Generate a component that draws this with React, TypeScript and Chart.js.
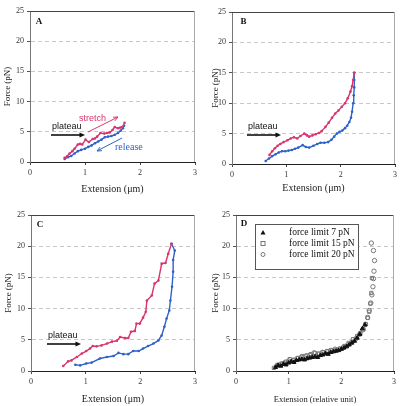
import React, { useEffect, useRef } from "react";
import { Chart, registerables } from "chart.js";
Chart.register(...registerables);

const RED = "#d8346f";
const BLUE = "#2e62c8";

// ---- Panel A ----
const aStretchX = [0.63,0.68,0.72,0.77,0.81,0.87,0.91,0.95,1.01,1.07,1.14,1.18,1.22,1.28,1.35,1.40,1.45,1.50,1.54,1.60,1.64,1.68,1.72];
const aStretchY = [0.7,1.0,1.4,1.8,2.2,2.9,3.0,2.9,3.7,3.3,3.8,3.9,4.2,4.8,4.7,4.8,4.9,5.3,5.8,5.6,5.7,5.8,6.5];
const aReleaseX = [0.63,0.69,0.75,0.81,0.87,0.93,1.00,1.06,1.12,1.18,1.24,1.30,1.36,1.42,1.48,1.54,1.60,1.65,1.69,1.71];
const aReleaseY = [0.5,0.8,1.0,1.4,1.8,2.0,2.2,2.5,2.75,3.1,3.4,3.7,4.1,4.2,4.3,4.5,4.8,5.2,5.6,6.0];

// ---- Panel B ----
const bStretchX = [0.69,0.74,0.79,0.84,0.89,0.95,1.02,1.08,1.14,1.20,1.26,1.33,1.38,1.42,1.48,1.54,1.60,1.65,1.72,1.78,1.84,1.90,1.96,2.02,2.08,2.13,2.18,2.21,2.23,2.25];
const bStretchY = [1.5,2.1,2.6,3.0,3.3,3.6,3.9,4.2,4.4,4.2,4.6,5.0,4.7,4.5,4.7,4.9,5.1,5.4,6.1,6.8,7.6,8.3,8.8,9.4,10.0,10.8,11.9,12.8,13.8,15.0];
const bReleaseX = [0.62,0.68,0.74,0.80,0.86,0.92,0.98,1.04,1.10,1.16,1.22,1.30,1.36,1.42,1.50,1.57,1.63,1.70,1.77,1.83,1.88,1.93,1.98,2.03,2.08,2.12,2.16,2.19,2.21,2.23,2.24,2.25,2.25,2.25];
const bReleaseY = [0.5,0.9,1.3,1.6,1.9,2.1,2.1,2.2,2.3,2.5,2.7,3.1,2.8,2.7,3.0,3.3,3.5,3.5,3.6,4.0,4.5,5.0,5.3,5.5,5.9,6.3,6.9,7.6,8.6,10.0,11.3,12.6,13.8,15.0];

// ---- Panel C ----
const cStretchX = [0.59,0.68,0.74,0.84,0.93,1.01,1.08,1.13,1.20,1.29,1.39,1.48,1.57,1.63,1.72,1.78,1.83,1.90,1.93,1.99,2.05,2.10,2.12,2.21,2.26,2.33,2.39,2.46,2.51,2.57];
const cStretchY = [0.8,1.55,1.7,2.25,2.8,3.2,3.6,4.0,3.95,4.1,4.4,4.7,4.85,5.45,5.3,5.3,6.3,6.4,7.6,7.6,8.55,9.5,11.3,12.1,14.0,14.5,17.2,17.3,18.8,20.4];
const cReleaseX = [0.81,0.90,1.01,1.11,1.26,1.39,1.51,1.60,1.69,1.78,1.87,1.97,2.05,2.14,2.24,2.33,2.39,2.44,2.48,2.53,2.55,2.58,2.60,2.60,2.63,2.57];
const cReleaseY = [1.0,0.9,1.2,1.35,2.0,2.25,2.4,2.9,2.7,2.7,3.2,3.2,3.6,4.0,4.4,4.9,5.7,7.1,8.4,9.7,11.3,13.5,15.9,17.8,19.3,20.4];

// ---- Panel D ----
const dLegend = ["force limit 7 pN", "force limit 15 pN", "force limit 20 pN"];
const d7X = [0.75,0.80,0.85,0.90,0.95,1.00,1.05,1.10,1.15,1.20,1.25,1.30,1.35,1.40,1.45,1.50,1.55,1.60,1.65,1.70,1.75,1.80,1.85,1.90,1.95,2.00,2.05,2.10,2.15,2.20,2.25,2.30,2.35,2.40,2.45];
const d7Y = [0.6,0.9,0.8,1.1,1.0,1.3,1.5,1.4,1.7,1.8,1.9,1.8,2.0,2.1,2.2,2.3,2.2,2.5,2.6,2.8,2.7,3.0,3.1,3.2,3.3,3.5,3.7,3.9,4.2,4.5,4.8,5.3,5.9,6.8,7.4];
const d15X = [0.72,0.80,0.88,0.95,1.02,1.10,1.18,1.26,1.34,1.42,1.50,1.58,1.66,1.74,1.82,1.90,1.98,2.06,2.14,2.22,2.30,2.36,2.42,2.46,2.50,2.53,2.55,2.57,2.58];
const d15Y = [0.5,1.0,1.2,1.5,1.9,1.8,2.1,2.4,2.5,2.7,2.9,2.8,3.0,3.2,3.3,3.4,3.6,4.0,4.5,5.1,5.6,6.1,6.7,7.5,8.5,9.5,10.8,12.5,14.9];
const d20X = [0.78,0.85,0.92,1.00,1.08,1.16,1.24,1.32,1.40,1.48,1.56,1.64,1.72,1.80,1.88,1.96,2.04,2.12,2.20,2.28,2.35,2.41,2.46,2.50,2.53,2.56,2.58,2.60,2.61,2.62,2.63,2.61,2.57];
const d20Y = [0.9,1.1,1.3,1.6,1.7,2.0,2.2,2.3,2.5,2.9,2.7,3.0,3.1,3.3,3.5,3.5,3.8,4.2,4.6,5.2,5.9,6.6,7.5,8.6,9.7,10.9,12.2,13.5,14.8,16.0,17.7,19.3,20.5];

const X_MIN = 0, X_MAX = 3, X_STEP = 1;
const Y_MIN = 0, Y_MAX = 25, Y_STEP = 5;

const CW = 200, CH = 203;
const SERIF = '"Liberation Serif", "Times New Roman", serif';
const SANS = '"Liberation Sans", Arial, sans-serif';

const pts = (xs: number[], ys: number[]) => xs.map((x, i) => ({ x, y: ys[i] }));

function lineSet(xs: number[], ys: number[], color: string) {
  return {
    data: pts(xs, ys), showLine: true, borderColor: color, backgroundColor: color,
    borderWidth: 1.4, pointRadius: 1.3, pointBorderWidth: 0, tension: 0,
  };
}

function arrow(ctx: CanvasRenderingContext2D, x1: number, y1: number, x2: number, y2: number,
  color: string, lw: number, head: number, filled: boolean) {
  const ang = Math.atan2(y2 - y1, x2 - x1);
  ctx.strokeStyle = color; ctx.fillStyle = color; ctx.lineWidth = lw;
  const ex = filled ? x2 - head * 0.8 * Math.cos(ang) : x2;
  const ey = filled ? y2 - head * 0.8 * Math.sin(ang) : y2;
  ctx.beginPath(); ctx.moveTo(x1, y1); ctx.lineTo(ex, ey); ctx.stroke();
  const a1 = ang + Math.PI - 0.42, a2 = ang + Math.PI + 0.42;
  ctx.beginPath();
  ctx.moveTo(x2 + head * Math.cos(a1), y2 + head * Math.sin(a1));
  ctx.lineTo(x2, y2);
  ctx.lineTo(x2 + head * Math.cos(a2), y2 + head * Math.sin(a2));
  if (filled) { ctx.closePath(); ctx.fill(); } else { ctx.stroke(); }
}

function text(ctx: CanvasRenderingContext2D, s: string, x: number, y: number, font: string, color: string, align: CanvasTextAlign = "left") {
  ctx.font = font; ctx.fillStyle = color; ctx.textAlign = align; ctx.textBaseline = "middle";
  ctx.fillText(s, x, y);
}

type Spec = {
  left: number; right: number; top: number; bottom: number;
  yTitlePad: number; xTitlePad: number; xTitle: string; xTitleSize: number;
  datasets: any[]; label: string; labelX: number; labelY: number;
  extra?: (ctx: CanvasRenderingContext2D) => void;
};

const Y_TITLE_SIZE = 9;

function plateau(ctx: CanvasRenderingContext2D, x: number, y: number) {
  text(ctx, "plateau", x, y, `9px ${SANS}`, "#111");
  arrow(ctx, x - 1, y + 8, x + 33, y + 8, "#111", 1.6, 6, true);
}

const specs: Spec[] = [
  {
    left: 30, right: 196, top: 11, bottom: 162, yTitlePad: 2.6, xTitlePad: 8, xTitle: "Extension (\u03bcm)", xTitleSize: 10,
    datasets: [lineSet(aStretchX, aStretchY, RED), lineSet(aReleaseX, aReleaseY, BLUE)],
    label: "A", labelX: 39, labelY: 22,
    extra: (ctx) => {
      text(ctx, "stretch", 79, 119, `9px ${SANS}`, RED);
      arrow(ctx, 88, 132, 118, 117, RED, 1, 5, false);
      plateau(ctx, 52, 127);
      arrow(ctx, 122, 138, 97, 151, BLUE, 1, 5, false);
      text(ctx, "release", 115, 147, `10px ${SERIF}`, BLUE);
    },
  },
  {
    left: 32, right: 197, top: 12, bottom: 164, yTitlePad: 10.3, xTitlePad: 8.7, xTitle: "Extension (\u03bcm)", xTitleSize: 10,
    datasets: [lineSet(bStretchX, bStretchY, RED), lineSet(bReleaseX, bReleaseY, BLUE)],
    label: "B", labelX: 43.5, labelY: 22,
    extra: (ctx) => { plateau(ctx, 48, 127); },
  },
  {
    left: 31, right: 195, top: 12, bottom: 168, yTitlePad: 3, xTitlePad: 1, xTitle: "Extension (\u03bcm)", xTitleSize: 10,
    datasets: [lineSet(cStretchX, cStretchY, RED), lineSet(cReleaseX, cReleaseY, BLUE)],
    label: "C", labelX: 40, labelY: 22,
    extra: (ctx) => { plateau(ctx, 48, 133); },
  },
  {
    left: 36, right: 194, top: 12, bottom: 168, yTitlePad: 10, xTitlePad: 0.9, xTitle: "Extension (relative unit)", xTitleSize: 8.5,
    datasets: [
      { data: pts(d7X, d7Y), pointStyle: "triangle", pointRadius: 2.4, backgroundColor: "#111", borderColor: "#111", borderWidth: 1 },
      { data: pts(d15X, d15Y), pointStyle: "rect", pointRadius: 2.3, backgroundColor: "rgba(0,0,0,0)", borderColor: "#777", borderWidth: 1 },
      { data: pts(d20X, d20Y), pointStyle: "circle", pointRadius: 2.2, backgroundColor: "rgba(0,0,0,0)", borderColor: "#777", borderWidth: 1 },
    ],
    label: "D", labelX: 44, labelY: 21,
    extra: (ctx) => {
      ctx.fillStyle = "#fff"; ctx.fillRect(55.5, 21.5, 103, 45);
      ctx.strokeStyle = "#555"; ctx.lineWidth = 1; ctx.strokeRect(55.5, 21.5, 103, 45);
      const rows = [29.5, 40.5, 51.5];
      ctx.fillStyle = "#111"; ctx.beginPath();
      ctx.moveTo(63, rows[0] - 2.5); ctx.lineTo(65.5, rows[0] + 2); ctx.lineTo(60.5, rows[0] + 2); ctx.closePath(); ctx.fill();
      ctx.strokeStyle = "#777"; ctx.strokeRect(61, rows[1] - 2, 4, 4);
      ctx.beginPath(); ctx.arc(63, rows[2], 2, 0, Math.PI * 2); ctx.stroke();
      dLegend.forEach((s, i) => text(ctx, s, 89, rows[i], `9.5px ${SERIF}`, "#111"));
    },
  },
];

function makeConfig(s: Spec): any {
  const tickFont = { family: SERIF, size: 8 };
  return {
    type: "scatter",
    data: { datasets: s.datasets },
    options: {
      animation: false, responsive: false, devicePixelRatio: 1,
      layout: { padding: { left: 0, top: s.top, right: CW - s.right, bottom: 0 } },
      plugins: { legend: { display: false }, tooltip: { enabled: false } },
      scales: {
        x: {
          type: "linear", min: X_MIN, max: X_MAX,
          afterFit: (sc: any) => { sc.height = CH - s.bottom; },
          ticks: { stepSize: X_STEP, font: tickFont, color: "#333", padding: 3, maxRotation: 0 },
          grid: { drawOnChartArea: false, drawTicks: true, tickLength: 3, tickColor: "#444", color: "#444" },
          border: { color: "#222", width: 1 },
          title: { display: true, text: s.xTitle, font: { family: SERIF, size: s.xTitleSize }, color: "#222", padding: { top: 0, bottom: s.xTitlePad } },
        },
        y: {
          type: "linear", min: Y_MIN, max: Y_MAX,
          afterFit: (sc: any) => { sc.width = s.left; },
          ticks: { stepSize: Y_STEP, font: tickFont, color: "#333", padding: 3 },
          grid: {
            color: (c: any) => (c.tick && (c.tick.value === Y_MIN || c.tick.value === Y_MAX)) ? "rgba(0,0,0,0)" : "#c8c8c8",
            tickColor: "#555", tickLength: 3, tickBorderDash: [], lineWidth: 1,
          },
          border: { color: "#777", width: 1, dash: [4, 3] },
          title: { display: true, text: "Force (pN)", font: { family: SERIF, size: Y_TITLE_SIZE }, color: "#222", padding: { top: s.yTitlePad, bottom: 0 } },
        },
      },
    },
    plugins: [{
      id: "overlay",
      afterDraw(chart: any) {
        const ctx: CanvasRenderingContext2D = chart.ctx;
        const a = chart.chartArea;
        ctx.save();
        ctx.setLineDash([]);
        ctx.lineWidth = 1;
        ctx.strokeStyle = "#444";
        ctx.beginPath(); ctx.moveTo(a.left, a.top + 0.5); ctx.lineTo(a.right, a.top + 0.5); ctx.stroke();
        ctx.strokeStyle = "#aaa";
        ctx.beginPath(); ctx.moveTo(a.right - 0.5, a.top); ctx.lineTo(a.right - 0.5, a.bottom); ctx.stroke();
        text(ctx, s.label, s.labelX, s.labelY, `bold 9px ${SERIF}`, "#111", "center");
        if (s.extra) s.extra(ctx);
        ctx.restore();
      },
    }],
  };
}

const POS = [[0, 0], [200, 0], [0, 203], [200, 203]];

export default function App() {
  const refs = [useRef<HTMLCanvasElement>(null), useRef<HTMLCanvasElement>(null), useRef<HTMLCanvasElement>(null), useRef<HTMLCanvasElement>(null)];
  useEffect(() => {
    const charts = specs.map((s, i) => new Chart(refs[i].current as HTMLCanvasElement, makeConfig(s)));
    return () => charts.forEach((c) => c.destroy());
  }, []);
  return (
    <div style={{ position: "fixed", left: 0, top: 0, width: 400, height: 406, background: "#fff" }}>
      {POS.map(([l, t], i) => (
        <canvas key={i} ref={refs[i]} width={CW} height={CH}
          style={{ position: "absolute", left: l, top: t, width: CW, height: CH }} />
      ))}
    </div>
  );
}
